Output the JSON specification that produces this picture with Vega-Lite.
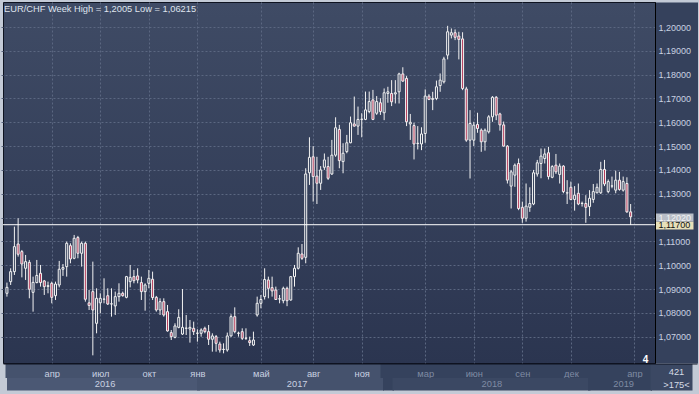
{
"$schema": "https://vega.github.io/schema/vega-lite/v6.json",
"width": 652, "height": 361,
"autosize": "none",
"padding": {"left": 3, "top": 2, "right": 44, "bottom": 31},
"background": "#c3cad6",
"config": {"view": {"fill": {"gradient": "linear", "x1": 0, "y1": 0, "x2": 0, "y2": 1, "stops": [{"offset": 0, "color": "#3f4b65"}, {"offset": 1, "color": "#2b3550"}]}, "stroke": "#0e1320", "strokeWidth": 1}},
"title": {"text": "EUR/CHF Week High = 1,2005 Low = 1,06215", "anchor": "start", "frame": "group", "orient": "top", "offset": -9, "dx": 1, "dy": 7, "baseline": "middle", "font": "Liberation Sans", "fontSize": 9.3, "fontWeight": "normal", "color": "#dfe4ee"},
"data": {"values": [
{"date":"2016-01-11","open":1.0882,"high":1.0927,"low":1.0868,"close":1.0907},
{"date":"2016-01-18","open":1.0931,"high":1.0987,"low":1.0917,"close":1.0973},
{"date":"2016-01-25","open":1.0973,"high":1.1162,"low":1.0959,"close":1.1078},
{"date":"2016-02-01","open":1.1089,"high":1.1197,"low":1.1036,"close":1.1046},
{"date":"2016-02-08","open":1.1057,"high":1.1064,"low":1.0949,"close":1.1005},
{"date":"2016-02-15","open":1.0987,"high":1.1043,"low":1.0938,"close":1.1015},
{"date":"2016-02-22","open":1.1012,"high":1.1022,"low":1.0861,"close":1.0899},
{"date":"2016-02-29","open":1.0886,"high":1.0952,"low":1.0805,"close":1.0928},
{"date":"2016-03-07","open":1.0927,"high":1.1022,"low":1.0924,"close":1.0957},
{"date":"2016-03-14","open":1.0966,"high":1.1001,"low":1.0910,"close":1.0927},
{"date":"2016-03-21","open":1.0934,"high":1.0938,"low":1.0875,"close":1.0910},
{"date":"2016-03-28","open":1.0911,"high":1.0931,"low":1.0882,"close":1.0914},
{"date":"2016-04-04","open":1.0924,"high":1.0931,"low":1.0840,"close":1.0865},
{"date":"2016-04-11","open":1.0872,"high":1.0931,"low":1.0854,"close":1.0921},
{"date":"2016-04-18","open":1.0917,"high":1.1018,"low":1.0907,"close":1.0983},
{"date":"2016-04-25","open":1.0983,"high":1.1005,"low":1.0955,"close":1.0990},
{"date":"2016-05-02","open":1.0994,"high":1.1099,"low":1.0952,"close":1.1092},
{"date":"2016-05-09","open":1.1082,"high":1.1092,"low":1.1008,"close":1.1026},
{"date":"2016-05-16","open":1.1029,"high":1.1127,"low":1.1025,"close":1.1113},
{"date":"2016-05-23","open":1.1116,"high":1.1123,"low":1.1029,"close":1.1050},
{"date":"2016-05-30","open":1.1050,"high":1.1099,"low":1.0994,"close":1.1092},
{"date":"2016-06-06","open":1.1092,"high":1.1099,"low":1.0847,"close":1.0857},
{"date":"2016-06-13","open":1.0842,"high":1.0896,"low":1.0812,"close":1.0831},
{"date":"2016-06-20","open":1.0889,"high":1.1015,"low":1.06215,"close":1.0812},
{"date":"2016-06-27","open":1.0756,"high":1.0903,"low":1.0714,"close":1.0861},
{"date":"2016-07-04","open":1.0842,"high":1.0882,"low":1.0798,"close":1.0861},
{"date":"2016-07-11","open":1.0857,"high":1.0945,"low":1.0840,"close":1.0858},
{"date":"2016-07-18","open":1.0872,"high":1.0903,"low":1.0833,"close":1.0837},
{"date":"2016-07-25","open":1.0837,"high":1.0903,"low":1.0784,"close":1.0838},
{"date":"2016-08-01","open":1.0829,"high":1.0889,"low":1.0791,"close":1.0868},
{"date":"2016-08-08","open":1.0868,"high":1.0924,"low":1.0847,"close":1.0882},
{"date":"2016-08-15","open":1.0882,"high":1.0889,"low":1.0868,"close":1.0872},
{"date":"2016-08-22","open":1.0865,"high":1.0955,"low":1.0861,"close":1.0952},
{"date":"2016-08-29","open":1.0931,"high":1.1001,"low":1.0907,"close":1.0949},
{"date":"2016-09-05","open":1.0952,"high":1.0980,"low":1.0924,"close":1.0935},
{"date":"2016-09-12","open":1.0955,"high":1.0987,"low":1.0924,"close":1.0938},
{"date":"2016-09-19","open":1.0927,"high":1.0952,"low":1.0854,"close":1.0889},
{"date":"2016-09-26","open":1.0889,"high":1.0924,"low":1.0809,"close":1.0917},
{"date":"2016-10-03","open":1.0924,"high":1.0980,"low":1.0903,"close":1.0945},
{"date":"2016-10-10","open":1.0941,"high":1.0973,"low":1.0854,"close":1.0864},
{"date":"2016-10-17","open":1.0865,"high":1.0871,"low":1.0805,"close":1.0812},
{"date":"2016-10-24","open":1.0812,"high":1.0861,"low":1.0791,"close":1.0847},
{"date":"2016-10-31","open":1.0847,"high":1.0861,"low":1.0784,"close":1.0791},
{"date":"2016-11-07","open":1.0805,"high":1.0833,"low":1.0721,"close":1.0724},
{"date":"2016-11-14","open":1.0717,"high":1.0728,"low":1.0686,"close":1.0700},
{"date":"2016-11-21","open":1.0697,"high":1.0756,"low":1.0693,"close":1.0745},
{"date":"2016-11-28","open":1.0739,"high":1.0815,"low":1.0735,"close":1.0781},
{"date":"2016-12-05","open":1.0711,"high":1.0900,"low":1.0707,"close":1.0739},
{"date":"2016-12-12","open":1.0735,"high":1.0791,"low":1.0707,"close":1.0736},
{"date":"2016-12-19","open":1.0732,"high":1.0770,"low":1.0675,"close":1.0739},
{"date":"2016-12-26","open":1.0735,"high":1.0763,"low":1.0707,"close":1.0721},
{"date":"2017-01-02","open":1.0714,"high":1.0731,"low":1.0679,"close":1.0715},
{"date":"2017-01-09","open":1.0714,"high":1.0735,"low":1.0700,"close":1.0728},
{"date":"2017-01-16","open":1.0735,"high":1.0742,"low":1.0714,"close":1.0721},
{"date":"2017-01-23","open":1.0721,"high":1.0749,"low":1.0665,"close":1.0689},
{"date":"2017-01-30","open":1.0689,"high":1.0714,"low":1.0637,"close":1.0703},
{"date":"2017-02-06","open":1.0700,"high":1.0707,"low":1.0637,"close":1.0672},
{"date":"2017-02-13","open":1.0669,"high":1.0679,"low":1.0633,"close":1.0644},
{"date":"2017-02-20","open":1.0646,"high":1.0672,"low":1.0630,"close":1.0647},
{"date":"2017-02-27","open":1.0644,"high":1.0717,"low":1.0637,"close":1.0703},
{"date":"2017-03-06","open":1.0703,"high":1.0794,"low":1.0700,"close":1.0784},
{"date":"2017-03-13","open":1.0784,"high":1.0823,"low":1.0714,"close":1.0721},
{"date":"2017-03-20","open":1.0715,"high":1.0721,"low":1.0700,"close":1.0714},
{"date":"2017-03-27","open":1.0721,"high":1.0735,"low":1.0686,"close":1.0693},
{"date":"2017-04-03","open":1.0693,"high":1.0735,"low":1.0686,"close":1.0694},
{"date":"2017-04-10","open":1.0683,"high":1.0700,"low":1.0661,"close":1.0675},
{"date":"2017-04-17","open":1.0665,"high":1.0721,"low":1.0661,"close":1.0686},
{"date":"2017-04-24","open":1.0791,"high":1.0868,"low":1.0784,"close":1.0840},
{"date":"2017-05-01","open":1.0840,"high":1.0875,"low":1.0819,"close":1.0856},
{"date":"2017-05-08","open":1.0868,"high":1.0987,"low":1.0856,"close":1.0940},
{"date":"2017-05-15","open":1.0938,"high":1.0952,"low":1.0861,"close":1.0903},
{"date":"2017-05-22","open":1.0906,"high":1.0952,"low":1.0868,"close":1.0892},
{"date":"2017-05-29","open":1.0896,"high":1.0910,"low":1.0854,"close":1.0856},
{"date":"2017-06-05","open":1.0858,"high":1.0875,"low":1.0840,"close":1.0859},
{"date":"2017-06-12","open":1.0851,"high":1.0910,"low":1.0840,"close":1.0903},
{"date":"2017-06-19","open":1.0903,"high":1.0910,"low":1.0828,"close":1.0851},
{"date":"2017-06-26","open":1.0854,"high":1.0954,"low":1.0851,"close":1.0952},
{"date":"2017-07-03","open":1.0952,"high":1.1001,"low":1.0910,"close":1.0987},
{"date":"2017-07-10","open":1.0987,"high":1.1075,"low":1.0982,"close":1.1050},
{"date":"2017-07-17","open":1.1047,"high":1.1089,"low":1.1022,"close":1.1029},
{"date":"2017-07-24","open":1.1033,"high":1.1407,"low":1.1008,"close":1.1383},
{"date":"2017-07-31","open":1.1388,"high":1.1537,"low":1.1337,"close":1.1453},
{"date":"2017-08-07","open":1.1455,"high":1.1500,"low":1.1267,"close":1.1372},
{"date":"2017-08-14","open":1.1374,"high":1.1455,"low":1.1257,"close":1.1344},
{"date":"2017-08-21","open":1.1344,"high":1.1416,"low":1.1316,"close":1.1400},
{"date":"2017-08-28","open":1.1411,"high":1.1469,"low":1.1400,"close":1.1442},
{"date":"2017-09-04","open":1.1414,"high":1.1455,"low":1.1358,"close":1.1365},
{"date":"2017-09-11","open":1.1383,"high":1.1526,"low":1.1379,"close":1.1462},
{"date":"2017-09-18","open":1.1462,"high":1.1621,"low":1.1455,"close":1.1577},
{"date":"2017-09-25","open":1.1570,"high":1.1589,"low":1.1407,"close":1.1439},
{"date":"2017-10-02","open":1.1435,"high":1.1512,"low":1.1386,"close":1.1470},
{"date":"2017-10-09","open":1.1477,"high":1.1547,"low":1.1470,"close":1.1514},
{"date":"2017-10-16","open":1.1514,"high":1.1624,"low":1.1512,"close":1.1598},
{"date":"2017-10-23","open":1.1593,"high":1.1708,"low":1.1582,"close":1.1584},
{"date":"2017-10-30","open":1.1584,"high":1.1666,"low":1.1547,"close":1.1612},
{"date":"2017-11-06","open":1.1612,"high":1.1638,"low":1.1537,"close":1.1613},
{"date":"2017-11-13","open":1.1612,"high":1.1729,"low":1.1609,"close":1.1652},
{"date":"2017-11-20","open":1.1645,"high":1.1729,"low":1.1638,"close":1.1687},
{"date":"2017-11-27","open":1.1694,"high":1.1736,"low":1.1609,"close":1.1612},
{"date":"2017-12-04","open":1.1638,"high":1.1710,"low":1.1631,"close":1.1687},
{"date":"2017-12-11","open":1.1682,"high":1.1701,"low":1.1631,"close":1.1645},
{"date":"2017-12-18","open":1.1640,"high":1.1742,"low":1.1609,"close":1.1724},
{"date":"2017-12-25","open":1.1721,"high":1.1749,"low":1.1682,"close":1.1728},
{"date":"2018-01-01","open":1.1721,"high":1.1777,"low":1.1668,"close":1.1686},
{"date":"2018-01-08","open":1.1719,"high":1.1777,"low":1.1679,"close":1.1724},
{"date":"2018-01-15","open":1.1728,"high":1.1808,"low":1.1679,"close":1.1803},
{"date":"2018-01-22","open":1.1803,"high":1.1831,"low":1.1770,"close":1.1773},
{"date":"2018-01-29","open":1.1784,"high":1.1794,"low":1.1584,"close":1.1602},
{"date":"2018-02-05","open":1.1593,"high":1.1635,"low":1.1526,"close":1.1600},
{"date":"2018-02-12","open":1.1586,"high":1.1598,"low":1.1444,"close":1.1509},
{"date":"2018-02-19","open":1.1511,"high":1.1584,"low":1.1486,"close":1.1512},
{"date":"2018-02-26","open":1.1509,"high":1.1579,"low":1.1483,"close":1.1551},
{"date":"2018-03-05","open":1.1553,"high":1.1738,"low":1.1514,"close":1.1710},
{"date":"2018-03-12","open":1.1710,"high":1.1718,"low":1.1693,"close":1.1696},
{"date":"2018-03-19","open":1.1696,"high":1.1728,"low":1.1651,"close":1.1700},
{"date":"2018-03-26","open":1.1700,"high":1.1775,"low":1.1693,"close":1.1749},
{"date":"2018-04-02","open":1.1754,"high":1.1805,"low":1.1728,"close":1.1777},
{"date":"2018-04-09","open":1.1770,"high":1.1875,"low":1.1763,"close":1.1866},
{"date":"2018-04-16","open":1.1882,"high":1.2005,"low":1.1864,"close":1.1980},
{"date":"2018-04-23","open":1.1966,"high":1.1994,"low":1.1952,"close":1.1976},
{"date":"2018-04-30","open":1.1976,"high":1.1990,"low":1.1945,"close":1.1957},
{"date":"2018-05-07","open":1.1962,"high":1.1980,"low":1.1864,"close":1.1948},
{"date":"2018-05-14","open":1.1950,"high":1.1978,"low":1.1735,"close":1.1742},
{"date":"2018-05-21","open":1.1740,"high":1.1749,"low":1.1518,"close":1.1525},
{"date":"2018-05-28","open":1.1525,"high":1.1651,"low":1.1364,"close":1.1595},
{"date":"2018-06-04","open":1.1525,"high":1.1602,"low":1.1500,"close":1.1588},
{"date":"2018-06-11","open":1.1591,"high":1.1640,"low":1.1556,"close":1.1574},
{"date":"2018-06-18","open":1.1567,"high":1.1574,"low":1.1476,"close":1.1518},
{"date":"2018-06-25","open":1.1518,"high":1.1574,"low":1.1481,"close":1.1567},
{"date":"2018-07-02","open":1.1560,"high":1.1630,"low":1.1553,"close":1.1623},
{"date":"2018-07-09","open":1.1623,"high":1.1710,"low":1.1602,"close":1.1705},
{"date":"2018-07-16","open":1.1705,"high":1.1710,"low":1.1609,"close":1.1630},
{"date":"2018-07-23","open":1.1635,"high":1.1640,"low":1.1565,"close":1.1589},
{"date":"2018-07-30","open":1.1589,"high":1.1603,"low":1.1498,"close":1.1500},
{"date":"2018-08-06","open":1.1500,"high":1.1504,"low":1.1343,"close":1.1357},
{"date":"2018-08-13","open":1.1332,"high":1.1400,"low":1.1238,"close":1.1392},
{"date":"2018-08-20","open":1.1378,"high":1.1427,"low":1.1329,"close":1.1420},
{"date":"2018-08-27","open":1.1427,"high":1.1448,"low":1.1231,"close":1.1238},
{"date":"2018-09-03","open":1.1243,"high":1.1267,"low":1.1178,"close":1.1197},
{"date":"2018-09-10","open":1.1197,"high":1.1343,"low":1.1183,"close":1.1248},
{"date":"2018-09-17","open":1.1243,"high":1.1327,"low":1.1224,"close":1.1259},
{"date":"2018-09-24","open":1.1257,"high":1.1400,"low":1.1252,"close":1.1388},
{"date":"2018-10-01","open":1.1383,"high":1.1442,"low":1.1372,"close":1.1430},
{"date":"2018-10-08","open":1.1427,"high":1.1490,"low":1.1365,"close":1.1458},
{"date":"2018-10-15","open":1.1448,"high":1.1490,"low":1.1427,"close":1.1467},
{"date":"2018-10-22","open":1.1472,"high":1.1497,"low":1.1360,"close":1.1372},
{"date":"2018-10-29","open":1.1369,"high":1.1420,"low":1.1365,"close":1.1414},
{"date":"2018-11-05","open":1.1420,"high":1.1467,"low":1.1383,"close":1.1392},
{"date":"2018-11-12","open":1.1381,"high":1.1427,"low":1.1343,"close":1.1416},
{"date":"2018-11-19","open":1.1416,"high":1.1420,"low":1.1302,"close":1.1309},
{"date":"2018-11-26","open":1.1303,"high":1.1357,"low":1.1257,"close":1.1304},
{"date":"2018-12-03","open":1.1327,"high":1.1351,"low":1.1273,"close":1.1276},
{"date":"2018-12-10","open":1.1276,"high":1.1332,"low":1.1229,"close":1.1294},
{"date":"2018-12-17","open":1.1302,"high":1.1343,"low":1.1252,"close":1.1257},
{"date":"2018-12-24","open":1.1259,"high":1.1267,"low":1.1246,"close":1.1260},
{"date":"2018-12-31","open":1.1259,"high":1.1294,"low":1.1178,"close":1.1243},
{"date":"2019-01-07","open":1.1246,"high":1.1315,"low":1.1206,"close":1.1281},
{"date":"2019-01-14","open":1.1276,"high":1.1341,"low":1.1262,"close":1.1309},
{"date":"2019-01-21","open":1.1304,"high":1.1343,"low":1.1302,"close":1.1327},
{"date":"2019-01-28","open":1.1304,"high":1.1434,"low":1.1299,"close":1.1402},
{"date":"2019-02-04","open":1.1402,"high":1.1442,"low":1.1332,"close":1.1341},
{"date":"2019-02-11","open":1.1309,"high":1.1360,"low":1.1302,"close":1.1351},
{"date":"2019-02-18","open":1.1332,"high":1.1372,"low":1.1323,"close":1.1333},
{"date":"2019-02-25","open":1.1315,"high":1.1397,"low":1.1302,"close":1.1357},
{"date":"2019-03-04","open":1.1357,"high":1.1392,"low":1.1313,"close":1.1318},
{"date":"2019-03-11","open":1.1315,"high":1.1372,"low":1.1309,"close":1.1351},
{"date":"2019-03-18","open":1.1343,"high":1.1369,"low":1.1220,"close":1.1224},
{"date":"2019-03-25","open":1.1224,"high":1.1257,"low":1.1169,"close":1.1203}
]},
"resolve": {"axis": {"x": "independent", "y": "independent"}},
"layer": [
{
"mark": {"type": "rule", "color": "#f2f2f2", "strokeWidth": 1, "clip": true},
"encoding": {
"x": {"field": "date", "type": "temporal",
 "scale": {"type": "utc", "domain": [{"year": 2016, "month": 1, "date": 13, "utc": true}, {"year": 2019, "month": 7, "date": 18, "utc": true}], "range": [0, 694]},
 "axis": {"orient": "bottom", "offset": 0.5,
  "values": [{"year": 2016, "month": 12, "date": 29, "utc": true}, {"year": 2018, "month": 8, "date": 23, "utc": true}, {"year": 2019, "month": 6, "date": 9, "utc": true},
   {"year": 2016, "month": 4, "date": 4, "utc": true}, {"year": 2016, "month": 7, "date": 4, "utc": true}, {"year": 2016, "month": 10, "date": 3, "utc": true}, {"year": 2017, "month": 1, "date": 2, "utc": true}, {"year": 2017, "month": 5, "date": 1, "utc": true}, {"year": 2017, "month": 8, "date": 7, "utc": true}, {"year": 2017, "month": 11, "date": 6, "utc": true}, {"year": 2018, "month": 3, "date": 5, "utc": true}, {"year": 2018, "month": 6, "date": 4, "utc": true}, {"year": 2018, "month": 9, "date": 3, "utc": true}, {"year": 2018, "month": 12, "date": 3, "utc": true}, {"year": 2019, "month": 4, "date": 1, "utc": true},
   {"year": 2019, "month": 5, "date": 1, "hours": 10, "utc": true}],
  "labelExpr": "datum.value == utc(2016,11,29) || datum.value == utc(2018,7,23) || datum.value == utc(2019,5,9) || datum.value == utc(2019,4,1,10) ? '' : ['янв','фев','мар','апр','май','июн','июл','авг','сен','окт','ноя','дек'][utcmonth(datum.value)]",
  "labelFont": "Liberation Sans", "labelFontSize": 9.3,
  "labelColor": {"condition": {"test": "datum.value > utc(2018,0,1)", "value": "#7f8ba3"}, "value": "#c9d1e1"},
  "labelBaseline": "middle", "labelAlign": "center", "labelPadding": -4.5, "labelOverlap": false, "labelFlush": false, "labelBound": false,
  "domain": true, "domainColor": "#0e1320", "domainWidth": 1,
  "ticks": true, "tickSize": 14,
  "tickColor": {"condition": [
    {"test": "datum.value == utc(2016,11,29)", "value": "#45526d"},
    {"test": "datum.value == utc(2018,7,23)", "value": "#35425d"},
    {"test": "datum.value == utc(2019,5,9)", "value": "#3b4863"},
    {"test": "datum.value == utc(2019,4,1,10)", "value": "#0e1320"}], "value": "transparent"},
  "tickWidth": {"condition": [
    {"test": "datum.value == utc(2016,11,29)", "value": 380},
    {"test": "datum.value == utc(2018,7,23)", "value": 272},
    {"test": "datum.value == utc(2019,5,9)", "value": 42}], "value": 1},
  "grid": true,
  "gridColor": {"condition": {"test": "datum.value == utc(2016,11,29) || datum.value == utc(2018,7,23) || datum.value == utc(2019,5,9) || datum.value == utc(2019,4,1,10)", "value": "transparent"}, "value": "#5b6781"},
  "gridDash": [2, 2], "gridWidth": 1,
  "title": "4", "titleX": 642, "titleY": -4.5, "titleAngle": 0, "titleAlign": "center", "titleBaseline": "middle", "titleFont": "Liberation Sans", "titleFontSize": 10, "titleFontWeight": "bold", "titleColor": "#ffffff"}},
"y": {"field": "low", "type": "quantitative",
 "scale": {"domain": [1.05894, 1.2105], "nice": false, "zero": false},
 "axis": {"orient": "right", "offset": 21.5, "domain": true, "domainColor": "#35415c", "domainWidth": 42, "domainCap": "butt", "ticks": false, "labels": false, "grid": false, "title": null}},
"y2": {"field": "high"}
}
},
{
"mark": {"type": "bar", "width": 2, "stroke": "#f2f2f2", "strokeWidth": 1, "clip": true},
"encoding": {
"x": {"field": "date", "type": "temporal",
 "scale": {"type": "utc", "domain": [{"year": 2016, "month": 1, "date": 13, "utc": true}, {"year": 2019, "month": 7, "date": 18, "utc": true}], "range": [0, 694]},
 "axis": {"orient": "bottom", "offset": 14.5,
  "values": [{"year": 2016, "month": 7, "date": 9, "utc": true}, {"year": 2017, "month": 6, "date": 25, "utc": true}, {"year": 2017, "month": 12, "date": 25, "utc": true}, {"year": 2018, "month": 7, "date": 6, "utc": true}, {"year": 2019, "month": 3, "date": 4, "utc": true}, {"year": 2019, "month": 6, "date": 9, "utc": true},
   {"year": 2019, "month": 5, "date": 1, "hours": 10, "utc": true},
   {"year": 2016, "month": 7, "date": 12, "utc": true}, {"year": 2017, "month": 7, "date": 7, "utc": true}, {"year": 2018, "month": 7, "date": 7, "utc": true}, {"year": 2019, "month": 3, "date": 11, "utc": true}],
  "labelExpr": "datum.value == utc(2016,6,12) || datum.value == utc(2017,6,7) || datum.value == utc(2018,6,7) || datum.value == utc(2019,2,11) ? '' + utcyear(datum.value) : ''",
  "labelFont": "Liberation Sans", "labelFontSize": 9.3,
  "labelColor": {"condition": {"test": "datum.value > utc(2018,0,1)", "value": "#7f8ba3"}, "value": "#c9d1e1"},
  "labelBaseline": "middle", "labelAlign": "center", "labelPadding": -7, "labelOverlap": false, "labelFlush": false, "labelBound": false,
  "domain": false,
  "ticks": true, "tickSize": 12.5,
  "tickColor": {"condition": [
    {"test": "datum.value == utc(2016,6,9)", "value": "#4b5874"},
    {"test": "datum.value == utc(2017,5,25)", "value": "#45526d"},
    {"test": "datum.value == utc(2017,11,25)", "value": "#35425d"},
    {"test": "datum.value == utc(2018,6,6)", "value": "#3b4863"},
    {"test": "datum.value == utc(2019,2,4)", "value": "#35425d"},
    {"test": "datum.value == utc(2019,5,9)", "value": "#3b4863"},
    {"test": "datum.value == utc(2019,4,1,10)", "value": "#0e1320"}], "value": "transparent"},
  "tickWidth": {"condition": [
    {"test": "datum.value == utc(2016,6,9)", "value": 193},
    {"test": "datum.value == utc(2017,5,25)", "value": 187},
    {"test": "datum.value == utc(2017,11,25)", "value": 11},
    {"test": "datum.value == utc(2018,6,6)", "value": 198},
    {"test": "datum.value == utc(2019,2,4)", "value": 63},
    {"test": "datum.value == utc(2019,5,9)", "value": 42}], "value": 1},
  "grid": false,
  "title": ">175<", "titleX": 673, "titleY": 7.2, "titleAngle": 0, "titleAlign": "center", "titleBaseline": "middle", "titleFont": "Liberation Sans", "titleFontSize": 9.3, "titleFontWeight": "normal", "titleColor": "#d5dbe6"}},
"y": {"field": "open", "type": "quantitative",
 "scale": {"domain": [1.05894, 1.2105], "nice": false, "zero": false},
 "axis": {"orient": "right", "offset": 0,
  "values": [1.2, 1.19, 1.18, 1.17, 1.16, 1.15, 1.14, 1.13, 1.12, 1.1202, 1.117, 1.11, 1.1, 1.09, 1.08, 1.07],
  "labelExpr": "abs(datum.value - 1.12) < 0.00001 ? '' : replace(format(datum.value, '.5f'), '.', ',')",
  "labelFont": "Liberation Sans", "labelFontSize": 9, "labelAlign": "left", "labelBaseline": "middle", "labelPadding": -35,
  "labelColor": {"condition": [{"test": "abs(datum.value - 1.117) < 0.00001", "value": "#111111"}, {"test": "abs(datum.value - 1.1202) < 0.00001", "value": "#f4f4f4"}], "value": "#c9d1e1"},
  "labelOverlap": false, "labelBound": false, "labelFlush": false,
  "domain": true, "domainColor": "#000000", "domainWidth": 1,
  "ticks": true, "tickSize": 38, "tickWidth": 8,
  "tickColor": {"condition": [{"test": "abs(datum.value - 1.117) < 0.00001", "value": "#e7e0b9"}, {"test": "abs(datum.value - 1.1202) < 0.00001", "value": "#b9bec7"}], "value": "transparent"},
  "grid": true,
  "gridColor": {"condition": {"test": "abs(datum.value - 1.117) < 0.00001 || abs(datum.value - 1.1202) < 0.00001", "value": "transparent"}, "value": "#5b6781"},
  "gridDash": [2, 2], "gridWidth": 1,
  "title": "421", "titleX": 21, "titleY": 369.7, "titleAngle": 0, "titleAlign": "center", "titleBaseline": "middle", "titleFont": "Liberation Sans", "titleFontSize": 9.3, "titleFontWeight": "normal", "titleColor": "#d5dbe6"}},
"y2": {"field": "close"},
"fill": {"condition": {"test": "datum.close < datum.open", "value": "#b53a5a"}, "value": "#333f59"}
}
},
{
"data": {"values": [{"last": 1.117}]},
"mark": {"type": "rule", "color": "#ffffff", "strokeWidth": 1},
"encoding": {
"y": {"field": "last", "type": "quantitative", "scale": {"domain": [1.05894, 1.2105], "nice": false, "zero": false}, "axis": null}
}
}
]
}
